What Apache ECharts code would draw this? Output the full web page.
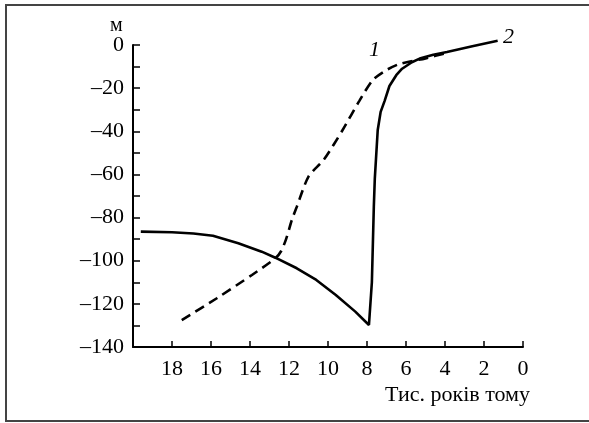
<!DOCTYPE html>
<html>
<head>
<meta charset="utf-8">
<script src="https://cdn.jsdelivr.net/npm/echarts@6/dist/echarts.min.js"></script>
<style>
  html, body { margin: 0; padding: 0; background: #fff; }
  #chart { width: 589px; height: 423px; }
</style>
</head>
<body>
<div id="chart"></div>
<script>
// x — тис. років тому, y — рівень, м
const xTicks = [18, 16, 14, 12, 10, 8, 6, 4, 2, 0]

// крива 1 (штрихова)
const curve1X = [17.5, 15.7, 13.9, 12.7, 12.4, 12.15, 11.85, 11.6, 11.0, 10.2, 9.25, 8.4, 7.7, 7.0, 6.3, 5.0, 3.9]
const curve1Y = [-127.5, -117.4, -106.6, -98.9, -95.5, -90, -81, -75, -61, -53, -39.4, -26, -16.2, -11.6, -8.7, -6.2, -3.6]

// крива 2 (суцільна)
const curve2X = [19.6, 18, 16.9, 15.9, 14.6, 13.4, 12.7, 11.6, 10.6, 9.6, 8.6, 7.9, 7.75, 7.65, 7.6, 7.45, 7.3, 7.1, 6.85, 6.5, 6.2, 5.7, 5.3, 4.6, 3.9, 2.6, 1.3]
const curve2Y = [-86.5, -86.8, -87.4, -88.4, -91.9, -95.8, -98.6, -103.5, -108.9, -115.9, -123.6, -129.8, -110, -75, -62, -39.4, -31, -26, -19, -14, -11, -8, -6.3, -4.5, -3.2, -0.6, 2.0]

const zip = (xs, ys) => xs.map((x, i) => [x, ys[i]])

const font = 'Liberation Serif, Times New Roman, serif'
const chart = echarts.init(document.getElementById('chart'))

chart.setOption({
  animation: false,
  backgroundColor: '#fff',
  grid: { left: 133, right: 66, top: 45, bottom: 76 },
  xAxis: {
    type: 'value',
    min: 0,
    max: 20,
    interval: 2,
    inverse: true,
    axisLine: { onZero: false, lineStyle: { color: '#000', width: 2 } },
    axisTick: { inside: true, length: 6, lineStyle: { color: '#000', width: 1.5 } },
    axisLabel: {
      color: '#000',
      fontFamily: font,
      fontSize: 22,
      margin: 11,
      formatter: v => (xTicks.includes(v) ? String(v) : '')
    },
    splitLine: { show: false }
  },
  yAxis: {
    type: 'value',
    min: -140,
    max: 0,
    interval: 20,
    axisLine: { show: true, onZero: false, lineStyle: { color: '#000', width: 2 } },
    axisTick: { show: true, inside: true, length: 7, lineStyle: { color: '#000', width: 1.5 } },
    minorTick: { show: true, splitNumber: 2, length: 7, lineStyle: { color: '#000', width: 1.5 } },
    axisLabel: {
      color: '#000',
      fontFamily: font,
      fontSize: 22,
      margin: 9,
      formatter: v => String(v).replace('-', '–')
    },
    splitLine: { show: false }
  },
  series: [
    {
      name: '1',
      type: 'line',
      data: zip(curve1X, curve1Y),
      showSymbol: false,
      smooth: 0.25,
      clip: false,
      lineStyle: { color: '#000', width: 2.6, type: [10, 6] }
    },
    {
      name: '2',
      type: 'line',
      data: zip(curve2X, curve2Y),
      showSymbol: false,
      smooth: false,
      clip: false,
      lineStyle: { color: '#000', width: 2.6 }
    }
  ],
  graphic: [
    {
      type: 'rect',
      shape: { x: 6, y: 5, width: 620, height: 416 },
      style: { fill: 'none', stroke: '#444', lineWidth: 2 },
      silent: true
    },
    {
      type: 'text', left: 110, top: 16,
      style: { text: 'м', font: '20px ' + font, fill: '#000' }
    },
    {
      type: 'text', left: 369, top: 39,
      style: { text: '1', font: 'italic 22px ' + font, fill: '#000' }
    },
    {
      type: 'text', left: 503, top: 26,
      style: { text: '2', font: 'italic 22px ' + font, fill: '#000' }
    },
    {
      type: 'text', right: 59, top: 384,
      style: { text: 'Тис. років тому', font: '22px ' + font, fill: '#000' }
    }
  ]
})
</script>
</body>
</html>
